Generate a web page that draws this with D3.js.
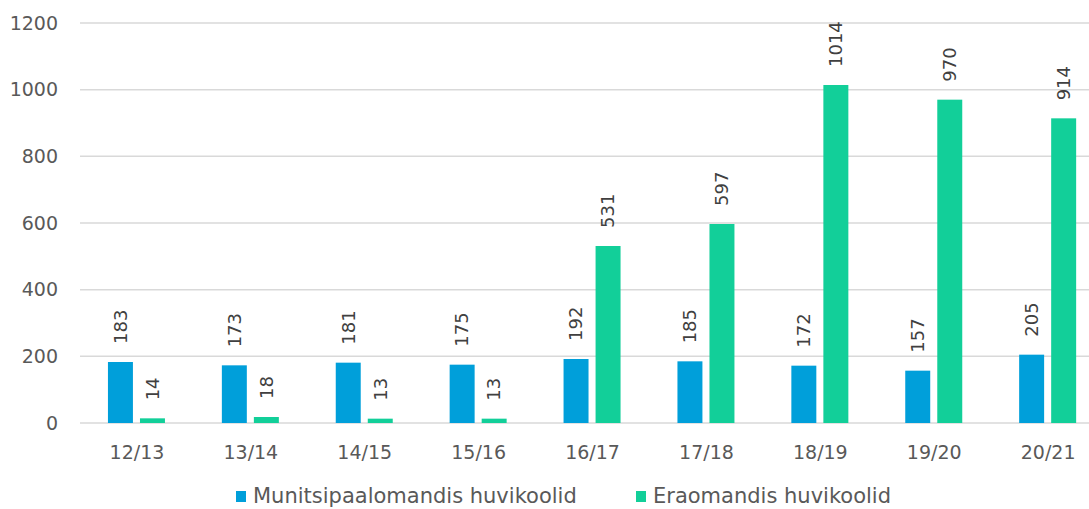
<!DOCTYPE html>
<html>
<head>
<meta charset="utf-8">
<script src="https://cdn.jsdelivr.net/npm/d3@7"></script>
<style>
  html, body { margin: 0; padding: 0; background: #fff; overflow: hidden; }
  svg { display: block; font-family: "Century Gothic", "DejaVu Sans", sans-serif; }
  .tick-label { fill: #595959; font-size: 19px; }
  .value-label { fill: #404040; font-size: 18px; }
  .legend-label { fill: #595959; font-size: 21px; }
</style>
</head>
<body>
<svg id="chart" width="1089" height="509"></svg>
<script>
const categories = ['12/13', '13/14', '14/15', '15/16', '16/17', '17/18', '18/19', '19/20', '20/21'];
const seriesNames = ['Munitsipaalomandis huvikoolid', 'Eraomandis huvikoolid'];
const municipalValues = [183, 173, 181, 175, 192, 185, 172, 157, 205];
const privateValues = [14, 18, 13, 13, 531, 597, 1014, 970, 914];
const yTicks = [0, 200, 400, 600, 800, 1000, 1200];
const colors = ['#009fda', '#12cf99'];

const svg = d3.select('#chart');
const plot = { left: 80, right: 1089, top: 23, bottom: 423 };
const step = 113.9;

const x0 = d3.scaleBand()
  .domain(categories)
  .range([plot.left, plot.left + step * categories.length])
  .padding(0);

// bars sit a little left of the category centre, like the original
const x1 = d3.scaleBand()
  .domain(seriesNames)
  .range([step / 2 - 29, step / 2 + 28])
  .paddingInner(0.22);

const y = d3.scaleLinear()
  .domain([0, 1200])
  .range([plot.bottom, plot.top]);

// gridlines
svg.append('g')
  .selectAll('line')
  .data(yTicks)
  .join('line')
    .attr('x1', plot.left)
    .attr('x2', plot.right)
    .attr('y1', d => y(d))
    .attr('y2', d => y(d))
    .attr('stroke', '#d9d9d9')
    .attr('stroke-width', 1.5);

// y tick labels
svg.append('g')
  .selectAll('text')
  .data(yTicks)
  .join('text')
    .attr('class', 'tick-label')
    .attr('x', 58)
    .attr('y', d => y(d))
    .attr('dy', '0.35em')
    .attr('text-anchor', 'end')
    .text(d => d);

// x tick labels
svg.append('g')
  .selectAll('text')
  .data(categories)
  .join('text')
    .attr('class', 'tick-label')
    .attr('x', d => x0(d) + step / 2)
    .attr('y', 452)
    .attr('dy', '0.35em')
    .attr('text-anchor', 'middle')
    .text(d => d);

const rows = categories.map((cat, i) => ({
  cat,
  values: [municipalValues[i], privateValues[i]],
}));

const groups = svg.append('g')
  .selectAll('g')
  .data(rows)
  .join('g')
    .attr('transform', d => `translate(${x0(d.cat)},0)`);

const cells = groups.selectAll('g')
  .data(d => d.values.map((v, j) => ({ name: seriesNames[j], value: v, j })))
  .join('g');

cells.append('rect')
  .attr('x', d => x1(d.name))
  .attr('width', x1.bandwidth())
  .attr('y', d => y(d.value))
  .attr('height', d => y(0) - y(d.value))
  .attr('fill', d => colors[d.j]);

// rotated value labels above each bar
cells.append('text')
  .attr('class', 'value-label')
  .attr('transform', d => `translate(${x1(d.name) + x1.bandwidth() / 2},${y(d.value) - 18}) rotate(-90)`)
  .attr('dy', '0.35em')
  .attr('text-anchor', 'start')
  .text(d => d.value);

// legend, nudged up a little so descenders stay inside the frame
const legendItems = [
  { name: seriesNames[0], x: 236 },
  { name: seriesNames[1], x: 636 },
];
const legend = svg.append('g')
  .selectAll('g')
  .data(legendItems)
  .join('g')
    .attr('transform', d => `translate(${d.x},0)`);

legend.append('rect')
  .attr('width', 10)
  .attr('height', 11)
  .attr('y', 491)
  .attr('fill', (d, i) => colors[i]);

legend.append('text')
  .attr('class', 'legend-label')
  .attr('x', 17)
  .attr('y', 503)
  .text(d => d.name);
</script>
</body>
</html>
